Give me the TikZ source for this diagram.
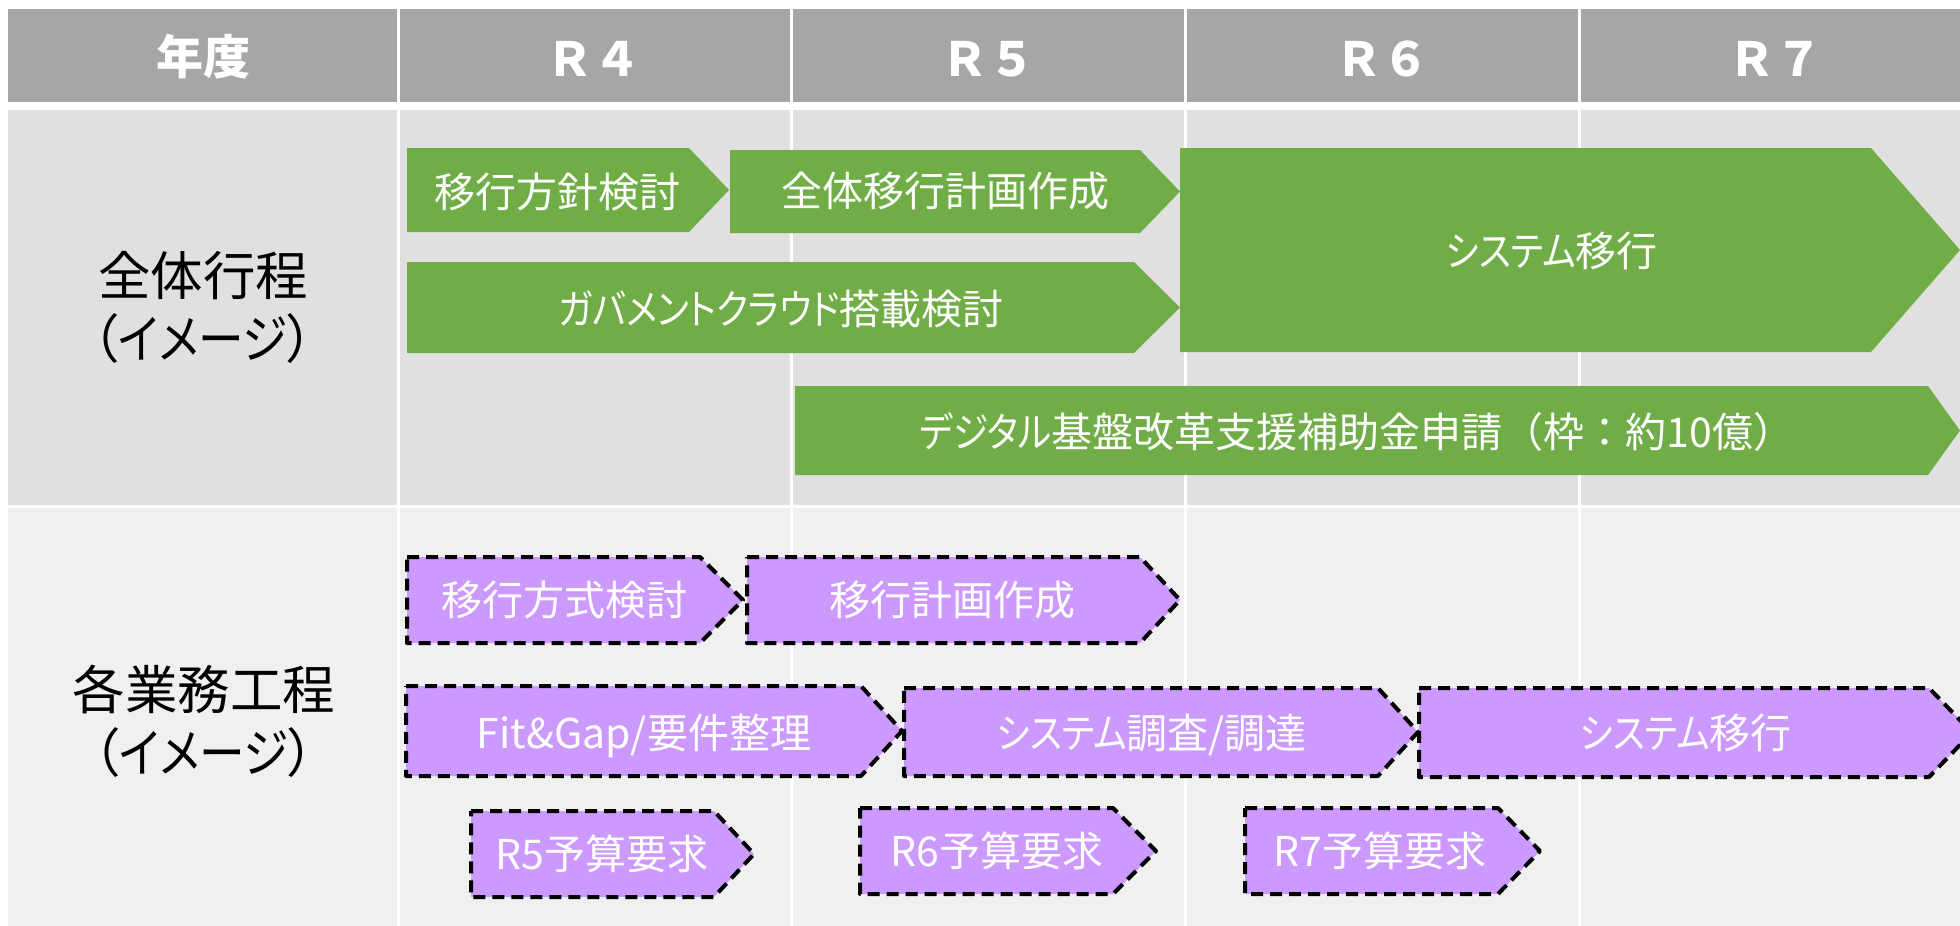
\documentclass[tikz,border=0pt]{standalone}
\usepackage{fontspec}
\setmainfont{Noto Sans CJK JP}[RawFeature=+palt]
\newfontfamily\fwfont{Noto Sans CJK JP}
\newfontfamily\kanafont{Noto Sans CJK JP}[RawFeature=+palt,FakeStretch=0.87]
\newcommand\kn[1]{{\kanafont #1}}
\definecolor{hdrgray}{HTML}{A6A6A6}
\definecolor{rowone}{HTML}{E0E0E0}
\definecolor{rowtwo}{HTML}{F0F0F0}
\definecolor{bargreen}{HTML}{70AD47}
\definecolor{barpurple}{HTML}{CC99FF}
% home-plate shape: style, x1, x2 (end of body), xtip, ytop, ybottom
\newcommand\homeplate[6]{\path[#1] (#2,#5) -- (#3,#5) -- (#4,{(#5+#6)/2}) -- (#3,#6) -- (#2,#6) -- cycle;}
\begin{document}
\begin{tikzpicture}[x=1pt,y=-1pt,
  hdr/.style={text=white,inner sep=0pt,font=\fwfont\bfseries\fontsize{47}{56}\selectfont},
  side/.style={text=black,inner sep=0pt,align=center,font=\fontsize{52.5}{63}\selectfont},
  bartext/.style={text=white,inner sep=0pt,font=\fontsize{41}{49}\selectfont,text height=34pt,text depth=3pt},
  gbar/.style={fill=bargreen},
  pbar/.style={fill=barpurple,draw=black,line width=4pt,dash pattern=on 12pt off 7pt,line join=round},
  divider/.style={draw=white,line width=3pt}]
\useasboundingbox (0,0) rectangle (1960,926);
\clip (0,0) rectangle (1960,926);
\fill[white] (0,0) rectangle (1960,926);
% table bands
\fill[hdrgray] (8,9) rectangle (1960,102);
\fill[rowone] (8,110) rectangle (1960,505);
\fill[rowtwo] (8,508) rectangle (1960,926);
\foreach \xx in {398.5,791.5,1185.5,1579.5} \draw[divider] (\xx,9) -- (\xx,926);
% header
\node[hdr] (hyear) at (203,56.5) {年度};
\node[hdr] (hr4) at (593,59) {Ｒ４};
\node[hdr] (hr5) at (988,59) {Ｒ５};
\node[hdr] (hr6) at (1382,59) {Ｒ６};
\node[hdr] (hr7) at (1775,59) {Ｒ７};
% side labels
\node[side] (side1) at (203,307.5) {全体行程\\（\kn{イメージ}）};
\node[side] (side2) at (204,721) {各業務工程\\（\kn{イメージ}）};
% green bars
\homeplate{gbar}{407}{689}{729}{148}{232}
\homeplate{gbar}{730}{1140}{1180}{150}{233}
\homeplate{gbar}{407}{1134}{1180}{262}{353}
\homeplate{gbar}{1180}{1871}{1960}{148}{352}
\homeplate{gbar}{795}{1928}{1960}{386}{475}
\node[bartext] (g1) at (557,192) {移行方針検討};
\node[bartext] (g2) at (945,191) {全体移行計画作成};
\node[bartext] (g3) at (781,309) {\kn{ガバメントクラウド}搭載検討};
\node[bartext] (g4) at (1552,251) {\kn{システム}移行};
\node[bartext] (g5) at (1357,432) {\kn{デジタル}基盤改革支援補助金申請{\fwfont （}枠{\fwfont ：}約10億{\fwfont ）}};
% purple bars
\homeplate{pbar}{407}{700}{743}{557}{643}
\homeplate{pbar}{747}{1140}{1180}{557}{643}
\homeplate{pbar}{406}{861}{902}{686}{776}
\homeplate{pbar}{904}{1378}{1418}{688}{776}
\homeplate{pbar}{1419}{1929}{1972}{688}{777}
\homeplate{pbar}{471}{714}{754}{811}{897}
\homeplate{pbar}{860}{1113}{1156}{808}{894}
\homeplate{pbar}{1245}{1498}{1540}{808}{894}
\node[bartext] (p1) at (564,600) {移行方式検討};
\node[bartext] (p2) at (952,600) {移行計画作成};
\node[bartext] (p3) at (644,733) {Fit\&Gap/要件整理};
\node[bartext] (p4) at (1152,733) {\kn{システム}調査/調達};
\node[bartext] (p5) at (1686,733) {\kn{システム}移行};
\node[bartext] (p6) at (602,854) {R5予算要求};
\node[bartext] (p7) at (997,851) {R6予算要求};
\node[bartext] (p8) at (1380,851) {R7予算要求};
\end{tikzpicture}
\end{document}
